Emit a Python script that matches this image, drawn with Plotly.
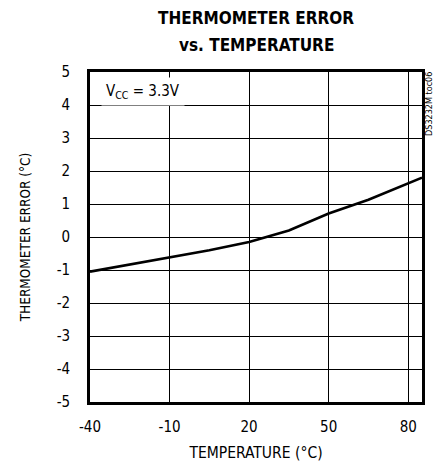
import plotly.graph_objects as go

temperature = [-40, -25, -10, 5, 20, 35, 50, 65, 85.2]
error = [-1.05, -0.83, -0.62, -0.40, -0.15, 0.20, 0.71, 1.13, 1.80]
x_ticks = [-40, -10, 20, 50, 80]
x_labels = ["-40", "-10", "20", "50", "80"]
y_ticks = [-5, -4, -3, -2, -1, 0, 1, 2, 3, 4, 5]
y_labels = ["-5", "-4", "-3", "-2", "-1", "0", "1", "2", "3", "4", "5"]

FONT = "DejaVu Sans Condensed, Liberation Sans Narrow, sans-serif"

# page body has an 8px offset; target positions are in viewport pixels
OFF = 8
W, H = 442, 464
L, R, T, B = 90 - OFF, 20 + OFF, 72 - OFF, 62 + OFF
PW, PH = W - L - R, H - T - B


def px(xp):
    return (xp - OFF - L) / PW


def py(yp):
    return (H - B - (yp - OFF)) / PH


fig = go.Figure()
fig.add_trace(go.Scatter(x=temperature, y=error, mode="lines",
                         line=dict(color="black", width=2.6), showlegend=False))

fig.update_layout(
    width=W, height=H,
    margin=dict(l=L, r=R, t=T, b=B, autoexpand=False),
    paper_bgcolor="white", plot_bgcolor="white",
    font=dict(family=FONT, size=15, color="black"),
)
fig.update_xaxes(range=[-40, 85.2], tickvals=x_ticks, ticktext=x_labels,
                 showgrid=True, gridcolor="black", gridwidth=1,
                 showline=True, linecolor="black", linewidth=2.6, mirror=True, zeroline=False,
                 ticks="", ticklabelstandoff=9, automargin=False,
                 title=dict(text="TEMPERATURE (°C)", font=dict(size=15.5), standoff=13))
fig.update_yaxes(range=[-5, 5], tickvals=y_ticks, ticktext=y_labels,
                 showgrid=True, gridcolor="black", gridwidth=1,
                 showline=True, linecolor="black", linewidth=2.6, mirror=True, zeroline=False,
                 ticks="", ticklabelstandoff=14, automargin=False,
                 title=dict(text="THERMOMETER ERROR (°C)", font=dict(size=13.5), standoff=24))

fig.add_annotation(x=px(256), y=py(18), xref="paper", yref="paper", showarrow=False,
                   xanchor="center", yanchor="middle",
                   text="<b>THERMOMETER ERROR</b>",
                   font=dict(family=FONT, size=17, color="black"))
fig.add_annotation(x=px(256), y=py(45), xref="paper", yref="paper", showarrow=False,
                   xanchor="center", yanchor="middle",
                   text="<b>vs. TEMPERATURE</b>",
                   font=dict(family=FONT, size=17, color="black"))
fig.add_annotation(x=-20, y=4.42, xref="x", yref="y", showarrow=False,
                   xanchor="center", yanchor="middle",
                   text="V<sub>CC</sub> = 3.3V", bgcolor="white", borderpad=4,
                   font=dict(family=FONT, size=15, color="black"))
fig.add_annotation(x=px(429), y=py(104), xref="paper", yref="paper", showarrow=False,
                   xanchor="center", yanchor="middle",
                   text="DS3232M toc06", textangle=-90,
                   font=dict(family=FONT, size=9, color="black"))

fig.write_html("out.html")
